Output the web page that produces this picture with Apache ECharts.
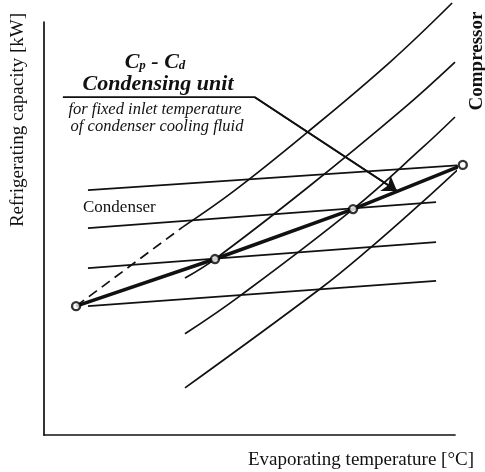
<!DOCTYPE html>
<html>
<head>
<meta charset="utf-8">
<script src="https://cdn.jsdelivr.net/npm/echarts@6/dist/echarts.min.js"></script>
<style>html,body{margin:0;padding:0;background:#fff}#c{width:485px;height:472px}</style>
</head>
<body>
<div id="c"></div>
<script>
// Schematic data (arbitrary units, 0..100 on both axes)
const compressorA = [[33.8,50.4],[46.5,59.3],[64.2,73.4],[84.2,90.3],[99.3,104.6]];
const compressorAExt = [[7.8,31.2],[33.8,50.4]];
const compressorB = [[34.3,38.0],[41.6,42.6],[64.0,59.8],[87.3,78.9],[100.0,90.3]];
const compressorC = [[34.3,24.5],[47.7,33.7],[75.2,54.7],[92.0,69.5],[100.0,77.0]];
const compressorD = [[34.3,11.4],[67.2,35.4],[78.8,44.8],[91.5,55.9],[101.9,65.4]];
const condenser1 = [[10.7,59.3],[101.9,65.4]];
const condenser2 = [[10.7,50.1],[95.4,56.4]];
const condenser3 = [[10.7,40.4],[95.4,46.7]];
const condenser4 = [[10.7,31.2],[95.4,37.3]];
const unitPoints = [[7.8,31.2],[41.6,42.6],[75.2,54.7],[101.9,65.4]];
const pointerPath = [[4.6,81.8],[51.3,81.8],[85.9,59.1]];

const INK = '#111';
const serif = '"Liberation Serif", "DejaVu Serif", serif';

function thinLine(data, extra) {
  return Object.assign({
    type: 'line', data: data, symbol: 'none', clip: false, smooth: false,
    lineStyle: { color: INK, width: 1.7 }, silent: true, z: 2
  }, extra || {});
}

const chart = echarts.init(document.getElementById('c'), null, { renderer: 'canvas' });
chart.setOption({
  animation: false,
  backgroundColor: '#fff',
  grid: { left: 44, top: 22, right: 30, bottom: 37, containLabel: false },
  xAxis: {
    type: 'value', min: 0, max: 100,
    axisLine: { show: true, onZero: false, lineStyle: { color: INK, width: 1.7 } },
    axisTick: { show: false }, axisLabel: { show: false }, splitLine: { show: false }
  },
  yAxis: {
    type: 'value', min: 0, max: 100,
    axisLine: { show: true, onZero: false, lineStyle: { color: INK, width: 1.7 } },
    axisTick: { show: false }, axisLabel: { show: false }, splitLine: { show: false }
  },
  series: [
    thinLine(compressorA, { smooth: 0.4 }),
    thinLine(compressorAExt, { lineStyle: { color: INK, width: 1.7, type: [10, 6] } }),
    thinLine(compressorB, { smooth: 0.4 }),
    thinLine(compressorC, { smooth: 0.4 }),
    thinLine(compressorD, { smooth: 0.4 }),
    thinLine(condenser1),
    thinLine(condenser2),
    thinLine(condenser3),
    thinLine(condenser4),
    thinLine(unitPoints, { lineStyle: { color: INK, width: 3.6 }, z: 3 }),
    thinLine(pointerPath, { z: 4 }),
    {
      type: 'lines', coordinateSystem: 'cartesian2d', silent: true, z: 4,
      symbol: ['none', 'arrow'], symbolSize: 14,
      lineStyle: { color: INK, width: 1.7, opacity: 1 },
      data: [{ coords: pointerPath.slice(1) }]
    },
    {
      type: 'scatter', data: unitPoints, symbol: 'circle', symbolSize: 8, clip: false, z: 5, silent: true,
      itemStyle: { color: '#fff', borderColor: '#000', borderWidth: 2.4 }
    }
  ],
  graphic: [
    { type: 'text', x: 18, y: 120, rotation: Math.PI / 2,
      style: { text: 'Refrigerating capacity [kW]', font: '19px ' + serif, fill: INK, align: 'center', verticalAlign: 'middle' } },
    { type: 'text', x: 474, y: 460,
      style: { text: 'Evaporating temperature [°C]', font: '19px ' + serif, fill: INK, align: 'right', verticalAlign: 'middle' } },
    { type: 'text', x: 477, y: 61, rotation: Math.PI / 2,
      style: { text: 'Compressor', font: 'bold 19px ' + serif, fill: INK, align: 'center', verticalAlign: 'middle' } },
    { type: 'text', x: 83, y: 208,
      style: { text: 'Condenser', font: '17px ' + serif, fill: INK, align: 'left', verticalAlign: 'middle' } },
    { type: 'text', x: 155, y: 62,
      style: {
        text: '{b|C}{s|p}{b| - C}{s|d}', align: 'center', verticalAlign: 'middle', fill: INK,
        rich: {
          b: { font: 'italic bold 22px ' + serif, fill: INK },
          s: { font: 'italic bold 13px ' + serif, fill: INK, padding: [7, 0, 0, 0] }
        }
      } },
    { type: 'text', x: 158, y: 84,
      style: { text: 'Condensing unit', font: 'italic bold 22px ' + serif, fill: INK, align: 'center', verticalAlign: 'middle' } },
    { type: 'text', x: 155, y: 110,
      style: { text: 'for fixed inlet temperature', font: 'italic 16.5px ' + serif, fill: INK, align: 'center', verticalAlign: 'middle' } },
    { type: 'text', x: 157, y: 127,
      style: { text: 'of condenser cooling fluid', font: 'italic 16.5px ' + serif, fill: INK, align: 'center', verticalAlign: 'middle' } }
  ]
});
</script>
</body>
</html>
